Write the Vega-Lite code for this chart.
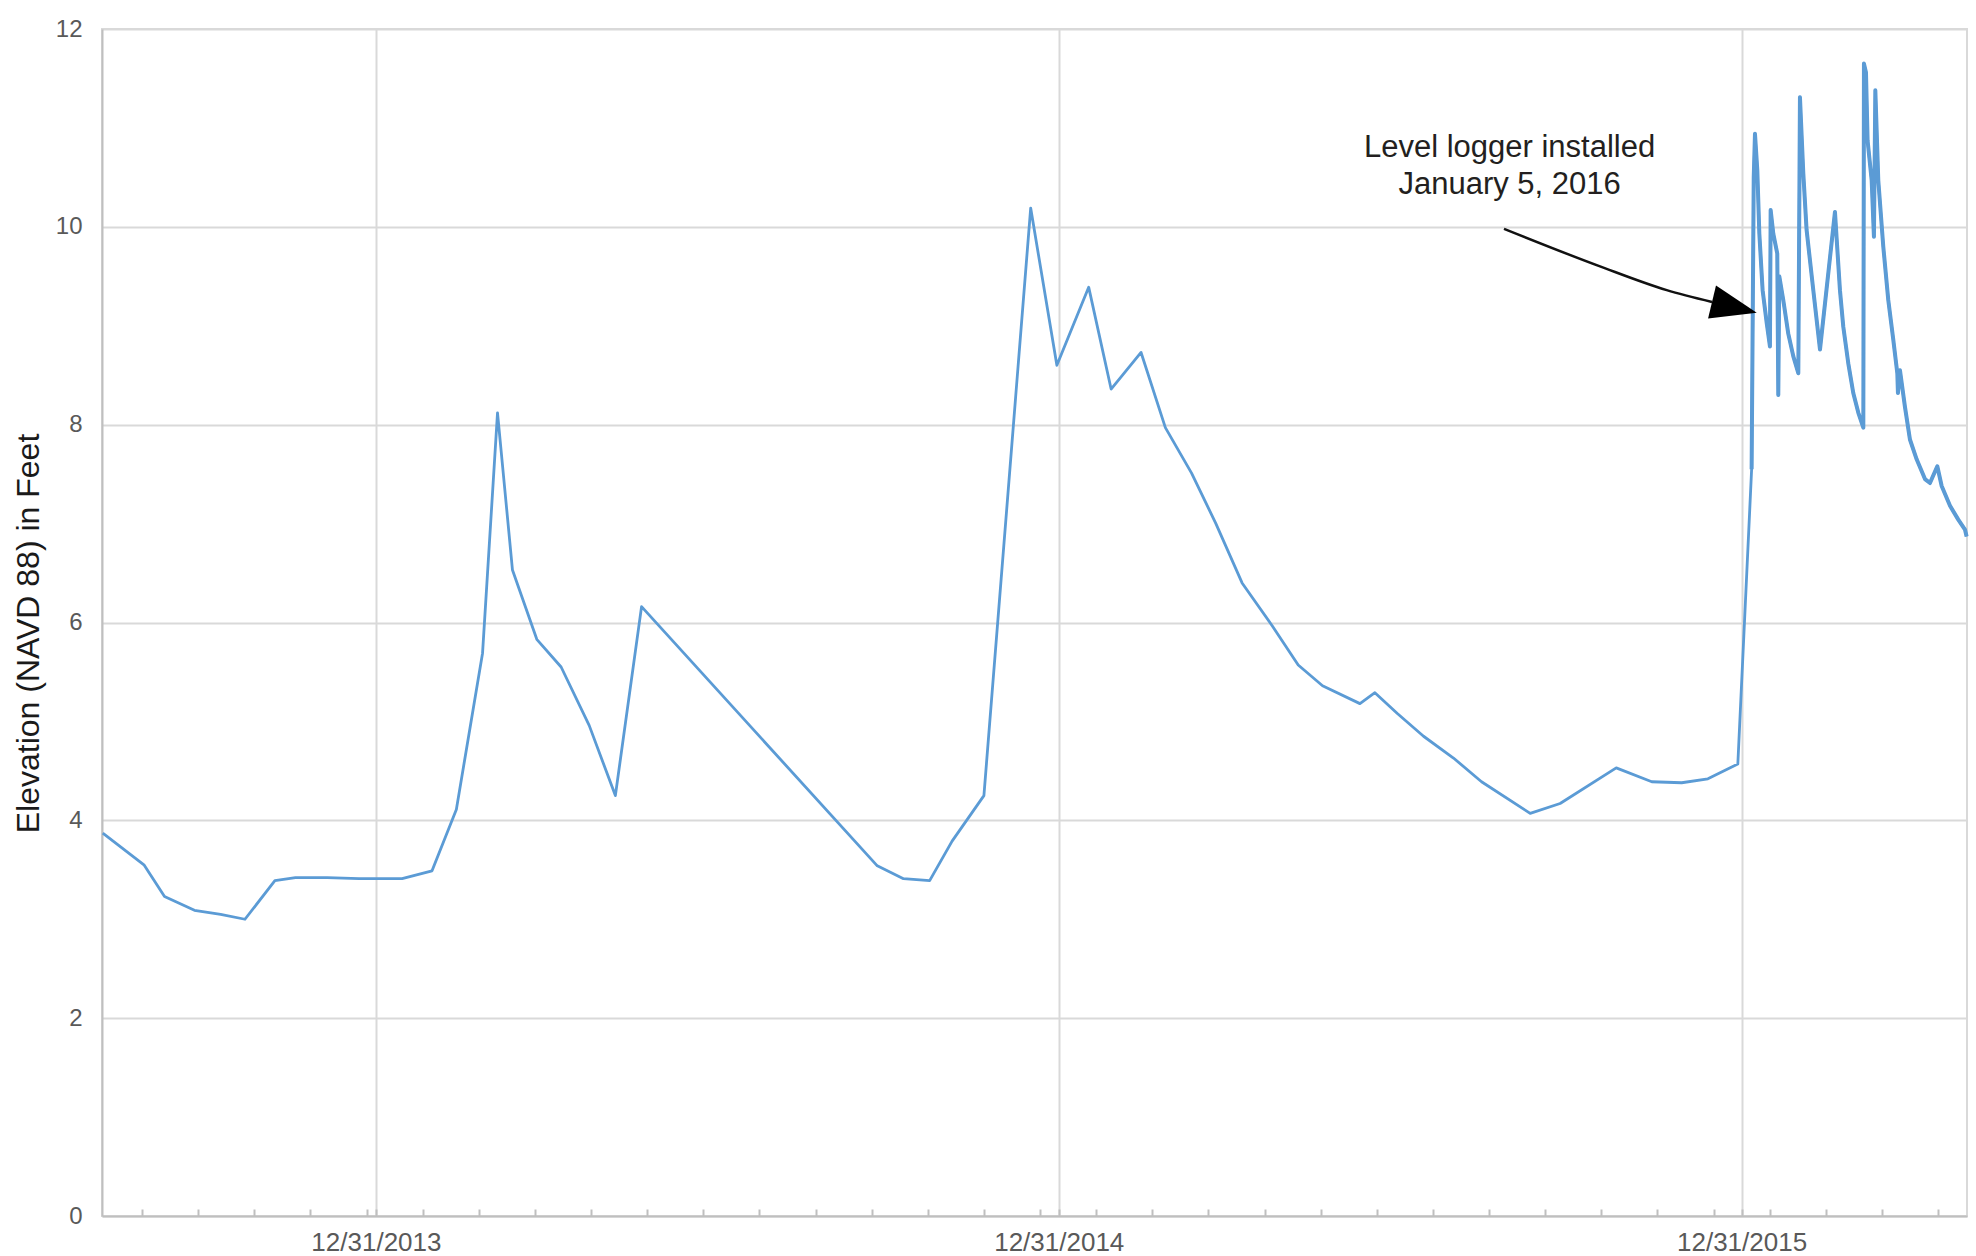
{
  "$schema": "https://vega.github.io/schema/vega-lite/v6.json",
  "width": 1865,
  "height": 1187,
  "autosize": {"type": "none"},
  "padding": {"left": 102, "top": 29, "right": 9, "bottom": 40},
  "background": "white",
  "config": {"view": {"stroke": "#d9d9d9", "strokeWidth": 2}, "font": "Liberation Sans"},
  "datasets": {
    "series": [
      {"date": "2013-08-07", "elevation": 3.87},
      {"date": "2013-08-29", "elevation": 3.55},
      {"date": "2013-09-09", "elevation": 3.23},
      {"date": "2013-09-25", "elevation": 3.09},
      {"date": "2013-10-09", "elevation": 3.05},
      {"date": "2013-10-22", "elevation": 3.0},
      {"date": "2013-11-07", "elevation": 3.39},
      {"date": "2013-11-18", "elevation": 3.42},
      {"date": "2013-12-05", "elevation": 3.42},
      {"date": "2013-12-22", "elevation": 3.41},
      {"date": "2014-01-14", "elevation": 3.41},
      {"date": "2014-01-30", "elevation": 3.49},
      {"date": "2014-02-12", "elevation": 4.11},
      {"date": "2014-02-26", "elevation": 5.69},
      {"date": "2014-03-06", "elevation": 8.12},
      {"date": "2014-03-14", "elevation": 6.53},
      {"date": "2014-03-27", "elevation": 5.83},
      {"date": "2014-04-09", "elevation": 5.55},
      {"date": "2014-04-24", "elevation": 4.96},
      {"date": "2014-05-08", "elevation": 4.25},
      {"date": "2014-05-22", "elevation": 6.16},
      {"date": "2014-09-25", "elevation": 3.54},
      {"date": "2014-10-09", "elevation": 3.41},
      {"date": "2014-10-23", "elevation": 3.39},
      {"date": "2014-11-04", "elevation": 3.79},
      {"date": "2014-11-21", "elevation": 4.25},
      {"date": "2014-12-16", "elevation": 10.19},
      {"date": "2014-12-30", "elevation": 8.6},
      {"date": "2015-01-16", "elevation": 9.39},
      {"date": "2015-01-28", "elevation": 8.36},
      {"date": "2015-02-13", "elevation": 8.73},
      {"date": "2015-02-26", "elevation": 7.97},
      {"date": "2015-03-12", "elevation": 7.51},
      {"date": "2015-03-25", "elevation": 7.0},
      {"date": "2015-04-08", "elevation": 6.4},
      {"date": "2015-04-24", "elevation": 5.97},
      {"date": "2015-05-08", "elevation": 5.57},
      {"date": "2015-05-21", "elevation": 5.36},
      {"date": "2015-06-10", "elevation": 5.18},
      {"date": "2015-06-18", "elevation": 5.29},
      {"date": "2015-06-30", "elevation": 5.08},
      {"date": "2015-07-14", "elevation": 4.85},
      {"date": "2015-07-30", "elevation": 4.63},
      {"date": "2015-08-14", "elevation": 4.39},
      {"date": "2015-09-09", "elevation": 4.07},
      {"date": "2015-09-25", "elevation": 4.17},
      {"date": "2015-10-25", "elevation": 4.53},
      {"date": "2015-11-13", "elevation": 4.39},
      {"date": "2015-11-29", "elevation": 4.38},
      {"date": "2015-12-13", "elevation": 4.42},
      {"date": "2015-12-29", "elevation": 4.57},
      {"date": "2016-01-05T09:00:00Z", "elevation": 7.55},
      {"date": "2016-01-06T12:00:00Z", "elevation": 10.5},
      {"date": "2016-01-07T04:00:00Z", "elevation": 10.94},
      {"date": "2016-01-08T10:00:00Z", "elevation": 10.57},
      {"date": "2016-01-09T12:00:00Z", "elevation": 9.93},
      {"date": "2016-01-11T06:00:00Z", "elevation": 9.36},
      {"date": "2016-01-13T10:00:00Z", "elevation": 9.03},
      {"date": "2016-01-15T04:00:00Z", "elevation": 8.79},
      {"date": "2016-01-15T13:00:00Z", "elevation": 10.17},
      {"date": "2016-01-16T23:00:00Z", "elevation": 9.93},
      {"date": "2016-01-19T02:00:00Z", "elevation": 9.73},
      {"date": "2016-01-19T15:00:00Z", "elevation": 8.3},
      {"date": "2016-01-20T04:00:00Z", "elevation": 9.5},
      {"date": "2016-01-22T07:00:00Z", "elevation": 9.26},
      {"date": "2016-01-24T23:00:00Z", "elevation": 8.92},
      {"date": "2016-01-27T16:00:00Z", "elevation": 8.69},
      {"date": "2016-01-30T08:00:00Z", "elevation": 8.52},
      {"date": "2016-01-31T05:00:00Z", "elevation": 11.31},
      {"date": "2016-02-02T00:00:00Z", "elevation": 10.54},
      {"date": "2016-02-03T18:00:00Z", "elevation": 9.97},
      {"date": "2016-02-07T08:00:00Z", "elevation": 9.36},
      {"date": "2016-02-10T22:00:00Z", "elevation": 8.76},
      {"date": "2016-02-18T22:00:00Z", "elevation": 10.15},
      {"date": "2016-02-21T14:00:00Z", "elevation": 9.36},
      {"date": "2016-02-23T09:00:00Z", "elevation": 8.99},
      {"date": "2016-02-26T01:00:00Z", "elevation": 8.62},
      {"date": "2016-02-28T17:00:00Z", "elevation": 8.32},
      {"date": "2016-03-02T10:00:00Z", "elevation": 8.12},
      {"date": "2016-03-05T02:00:00Z", "elevation": 7.97},
      {"date": "2016-03-05T10:00:00Z", "elevation": 11.65},
      {"date": "2016-03-06T12:00:00Z", "elevation": 11.56},
      {"date": "2016-03-07T09:00:00Z", "elevation": 10.87},
      {"date": "2016-03-09T13:00:00Z", "elevation": 10.47},
      {"date": "2016-03-10T18:00:00Z", "elevation": 9.9},
      {"date": "2016-03-11T12:00:00Z", "elevation": 11.38},
      {"date": "2016-03-13T02:00:00Z", "elevation": 10.47},
      {"date": "2016-03-15T18:00:00Z", "elevation": 9.8},
      {"date": "2016-03-18T10:00:00Z", "elevation": 9.26},
      {"date": "2016-03-21T02:00:00Z", "elevation": 8.86},
      {"date": "2016-03-23T06:00:00Z", "elevation": 8.52},
      {"date": "2016-03-23T14:00:00Z", "elevation": 8.32},
      {"date": "2016-03-24T16:00:00Z", "elevation": 8.55},
      {"date": "2016-03-27T08:00:00Z", "elevation": 8.18},
      {"date": "2016-03-30T00:00:00Z", "elevation": 7.85},
      {"date": "2016-04-02T14:00:00Z", "elevation": 7.65},
      {"date": "2016-04-07T01:00:00Z", "elevation": 7.45},
      {"date": "2016-04-09T17:00:00Z", "elevation": 7.41},
      {"date": "2016-04-13T15:00:00Z", "elevation": 7.58},
      {"date": "2016-04-15T23:00:00Z", "elevation": 7.38},
      {"date": "2016-04-20T10:00:00Z", "elevation": 7.18},
      {"date": "2016-04-24T20:00:00Z", "elevation": 7.04},
      {"date": "2016-04-28T10:00:00Z", "elevation": 6.94},
      {"date": "2016-04-29T07:00:00Z", "elevation": 6.87}
    ],
    "notes": [
      {"date": "2015-08-29", "elevation": 10.71, "label": "Level logger installed"},
      {"date": "2015-08-29", "elevation": 10.33, "label": "January 5, 2016"}
    ],
    "arrow": [
      {"date": "2015-08-26", "elevation": 9.98},
      {"date": "2015-10-16T08:00:00Z", "elevation": 9.6},
      {"date": "2015-11-21", "elevation": 9.36},
      {"date": "2015-12-15T05:00:00Z", "elevation": 9.24}
    ],
    "head": [
      {"date": "2015-12-27T04:00:00Z", "elevation": 9.186}
    ]
  },
  "layer": [
    {
      "data": {"name": "series"},
      "mark": {"type": "line", "color": "#5b9bd5", "strokeWidth": 2.8, "strokeJoin": "round"},
      "encoding": {
        "x": {
          "field": "date",
          "type": "temporal",
          "scale": {
            "type": "utc",
            "domain": [
              {"year": 2013, "month": 8, "date": 6, "hours": 14, "utc": true},
              {"year": 2016, "month": 4, "date": 29, "hours": 12, "utc": true}
            ]
          },
          "axis": {
            "title": null,
            "values": [
              {"year": 2013, "month": 8, "date": 28, "utc": true},
              {"year": 2013, "month": 9, "date": 27, "utc": true},
              {"year": 2013, "month": 10, "date": 27, "utc": true},
              {"year": 2013, "month": 11, "date": 26, "utc": true},
              {"year": 2013, "month": 12, "date": 26, "utc": true},
              {"year": 2013, "month": 12, "date": 31, "utc": true},
              {"year": 2014, "month": 1, "date": 25, "utc": true},
              {"year": 2014, "month": 2, "date": 24, "utc": true},
              {"year": 2014, "month": 3, "date": 26, "utc": true},
              {"year": 2014, "month": 4, "date": 25, "utc": true},
              {"year": 2014, "month": 5, "date": 25, "utc": true},
              {"year": 2014, "month": 6, "date": 24, "utc": true},
              {"year": 2014, "month": 7, "date": 24, "utc": true},
              {"year": 2014, "month": 8, "date": 23, "utc": true},
              {"year": 2014, "month": 9, "date": 22, "utc": true},
              {"year": 2014, "month": 10, "date": 22, "utc": true},
              {"year": 2014, "month": 11, "date": 21, "utc": true},
              {"year": 2014, "month": 12, "date": 21, "utc": true},
              {"year": 2014, "month": 12, "date": 31, "utc": true},
              {"year": 2015, "month": 1, "date": 20, "utc": true},
              {"year": 2015, "month": 2, "date": 19, "utc": true},
              {"year": 2015, "month": 3, "date": 21, "utc": true},
              {"year": 2015, "month": 4, "date": 20, "utc": true},
              {"year": 2015, "month": 5, "date": 20, "utc": true},
              {"year": 2015, "month": 6, "date": 19, "utc": true},
              {"year": 2015, "month": 7, "date": 19, "utc": true},
              {"year": 2015, "month": 8, "date": 18, "utc": true},
              {"year": 2015, "month": 9, "date": 17, "utc": true},
              {"year": 2015, "month": 10, "date": 17, "utc": true},
              {"year": 2015, "month": 11, "date": 16, "utc": true},
              {"year": 2015, "month": 12, "date": 16, "utc": true},
              {"year": 2015, "month": 12, "date": 31, "utc": true},
              {"year": 2016, "month": 1, "date": 15, "utc": true},
              {"year": 2016, "month": 2, "date": 14, "utc": true},
              {"year": 2016, "month": 3, "date": 15, "utc": true},
              {"year": 2016, "month": 4, "date": 14, "utc": true}
            ],
            "labelExpr": "(utcmonth(datum.value) == 11 && utcdate(datum.value) == 31) ? utcFormat(datum.value, '%m/%d/%Y') : ''",
            "labelFontSize": 26,
            "labelColor": "#595959",
            "labelOverlap": false,
            "labelFlush": false,
            "labelBound": false,
            "labelPadding": 20,
            "tickColor": "#bfbfbf",
            "tickWidth": 2,
            "tickSize": -7,
            "domainColor": "#bfbfbf",
            "domainWidth": 2,
            "gridColor": "#d9d9d9",
            "gridWidth": 2,
            "gridOpacity": {"condition": {"test": "utcmonth(datum.value) == 11 && utcdate(datum.value) == 31", "value": 1}, "value": 0}
          }
        },
        "y": {
          "field": "elevation",
          "type": "quantitative",
          "scale": {"domain": [0, 12], "nice": false, "zero": true},
          "axis": {
            "title": "Elevation (NAVD 88) in Feet",
            "titleFontSize": 32,
            "titleFontWeight": "normal",
            "titleColor": "#1a1a1a",
            "titleX": -74,
            "titleY": 604,
            "titleAngle": -90,
            "titleAlign": "center",
            "titleBaseline": "middle",
            "values": [0, 2, 4, 6, 8, 10, 12],
            "format": "d",
            "labelFontSize": 24,
            "labelColor": "#595959",
            "labelPadding": 20,
            "ticks": false,
            "domainColor": "#bfbfbf",
            "domainWidth": 2,
            "gridColor": "#d9d9d9",
            "gridWidth": 2
          }
        }
      }
    },
    {
      "data": {"name": "series"},
      "transform": [{"filter": {"field": "date", "gte": {"year": 2016, "month": 1, "date": 5, "hours": 9, "utc": true}}}],
      "mark": {"type": "line", "color": "#5b9bd5", "strokeWidth": 4, "strokeJoin": "round"},
      "encoding": {
        "x": {"field": "date", "type": "temporal"},
        "y": {"field": "elevation", "type": "quantitative"}
      }
    },
    {
      "data": {"name": "arrow"},
      "mark": {"type": "line", "color": "#111111", "strokeWidth": 2.5, "interpolate": "monotone"},
      "encoding": {
        "x": {"field": "date", "type": "temporal"},
        "y": {"field": "elevation", "type": "quantitative"}
      }
    },
    {
      "data": {"name": "head"},
      "mark": {"type": "point", "shape": "M1,0L-1,-0.74L-1,0.74Z", "filled": true, "color": "#000000", "opacity": 1, "size": 2116, "angle": 13.5},
      "encoding": {
        "x": {"field": "date", "type": "temporal"},
        "y": {"field": "elevation", "type": "quantitative"}
      }
    },
    {
      "data": {"name": "notes"},
      "mark": {"type": "text", "fontSize": 31, "color": "#231f20", "align": "center", "baseline": "alphabetic", "font": "Liberation Sans"},
      "encoding": {
        "x": {"field": "date", "type": "temporal"},
        "y": {"field": "elevation", "type": "quantitative"},
        "text": {"field": "label"}
      }
    }
  ]
}
